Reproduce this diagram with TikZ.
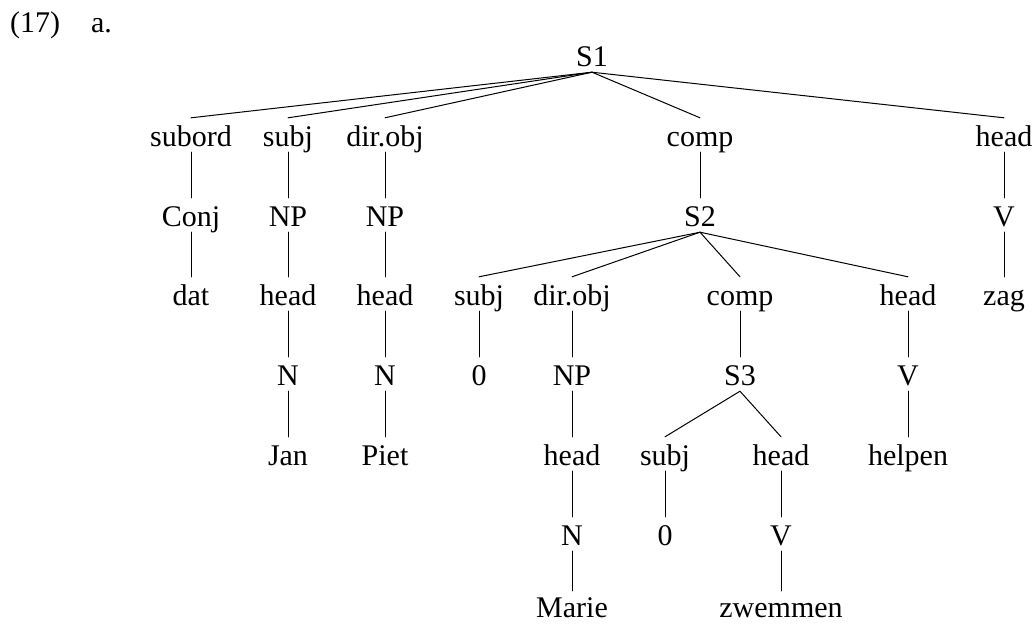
\documentclass[tikz,border=0pt]{standalone}
\usepackage{fontspec}
\setmainfont{Liberation Serif}
\begin{document}
\begin{tikzpicture}[x=1pt,y=-1pt,
  lbl/.style={anchor=base,inner xsep=0pt,inner ysep=6pt,text height=22pt,text depth=0pt,font=\fontsize{30}{36}\selectfont},
  leaf/.style={lbl,inner ysep=0pt,text height=26pt},
  edge/.style={line width=1pt,line cap=round}]
\useasboundingbox (0,0) rectangle (1035,625);
\node[lbl,anchor=base west] (ex) at (10,32) {(17)\hspace{31pt}a.};
% row 0
\node[lbl] (s1) at (592,66) {S1};
% row 1
\node[lbl] (subord) at (191,146) {subord};
\node[lbl] (subj1) at (288,146) {subj};
\node[lbl] (dobj1) at (385,146) {dir.obj};
\node[lbl] (comp1) at (700,146) {comp};
\node[lbl] (head1) at (1004,146) {head};
% row 2
\node[lbl] (conj) at (191,226) {Conj};
\node[lbl] (np1) at (288,226) {NP};
\node[lbl] (np2) at (385,226) {NP};
\node[lbl] (s2) at (700,226) {S2};
\node[lbl] (v1) at (1004,226) {V};
% row 3
\node[lbl] (dat) at (191,305) {dat};
\node[lbl] (headnp1) at (288,305) {head};
\node[lbl] (headnp2) at (385,305) {head};
\node[lbl] (subj2) at (479,305) {subj};
\node[lbl] (dobj2) at (572,305) {dir.obj};
\node[lbl] (comp2) at (740,305) {comp};
\node[lbl] (head2) at (908,305) {head};
\node[lbl] (zag) at (1004,305) {zag};
% row 4
\node[lbl] (n1) at (288,385) {N};
\node[lbl] (n2) at (385,385) {N};
\node[lbl] (zero1) at (479,385) {0};
\node[lbl] (np3) at (572,385) {NP};
\node[lbl] (s3) at (740,385) {S3};
\node[lbl] (v2) at (908,385) {V};
% row 5
\node[lbl] (jan) at (288,465) {Jan};
\node[lbl] (piet) at (385,465) {Piet};
\node[lbl] (headnp3) at (572,465) {head};
\node[lbl] (subj3) at (665,465) {subj};
\node[lbl] (head3) at (781,465) {head};
\node[lbl] (helpen) at (908,465) {helpen};
% row 6
\node[lbl] (n3) at (572,545) {N};
\node[lbl] (zero2) at (665,545) {0};
\node[lbl] (v3) at (781,545) {V};
% row 7
\node[leaf] (marie) at (572,617) {Marie};
\node[leaf] (zwemmen) at (781,617) {zwemmen};
% edges
\foreach \c in {subord,subj1,dobj1,comp1,head1} \draw[edge] (s1.south) -- (\c.north);
\draw[edge] (subord.south) -- (conj.north);
\draw[edge] (conj.south) -- (dat.north);
\draw[edge] (subj1.south) -- (np1.north);
\draw[edge] (np1.south) -- (headnp1.north);
\draw[edge] (headnp1.south) -- (n1.north);
\draw[edge] (n1.south) -- (jan.north);
\draw[edge] (dobj1.south) -- (np2.north);
\draw[edge] (np2.south) -- (headnp2.north);
\draw[edge] (headnp2.south) -- (n2.north);
\draw[edge] (n2.south) -- (piet.north);
\draw[edge] (comp1.south) -- (s2.north);
\draw[edge] (head1.south) -- (v1.north);
\draw[edge] (v1.south) -- (zag.north);
\foreach \c in {subj2,dobj2,comp2,head2} \draw[edge] (s2.south) -- (\c.north);
\draw[edge] (subj2.south) -- (zero1.north);
\draw[edge] (dobj2.south) -- (np3.north);
\draw[edge] (np3.south) -- (headnp3.north);
\draw[edge] (headnp3.south) -- (n3.north);
\draw[edge] (n3.south) -- (marie.north);
\draw[edge] (comp2.south) -- (s3.north);
\draw[edge] (s3.south) -- (subj3.north);
\draw[edge] (s3.south) -- (head3.north);
\draw[edge] (subj3.south) -- (zero2.north);
\draw[edge] (head3.south) -- (v3.north);
\draw[edge] (v3.south) -- (zwemmen.north);
\draw[edge] (head2.south) -- (v2.north);
\draw[edge] (v2.south) -- (helpen.north);
\end{tikzpicture}
\end{document}
